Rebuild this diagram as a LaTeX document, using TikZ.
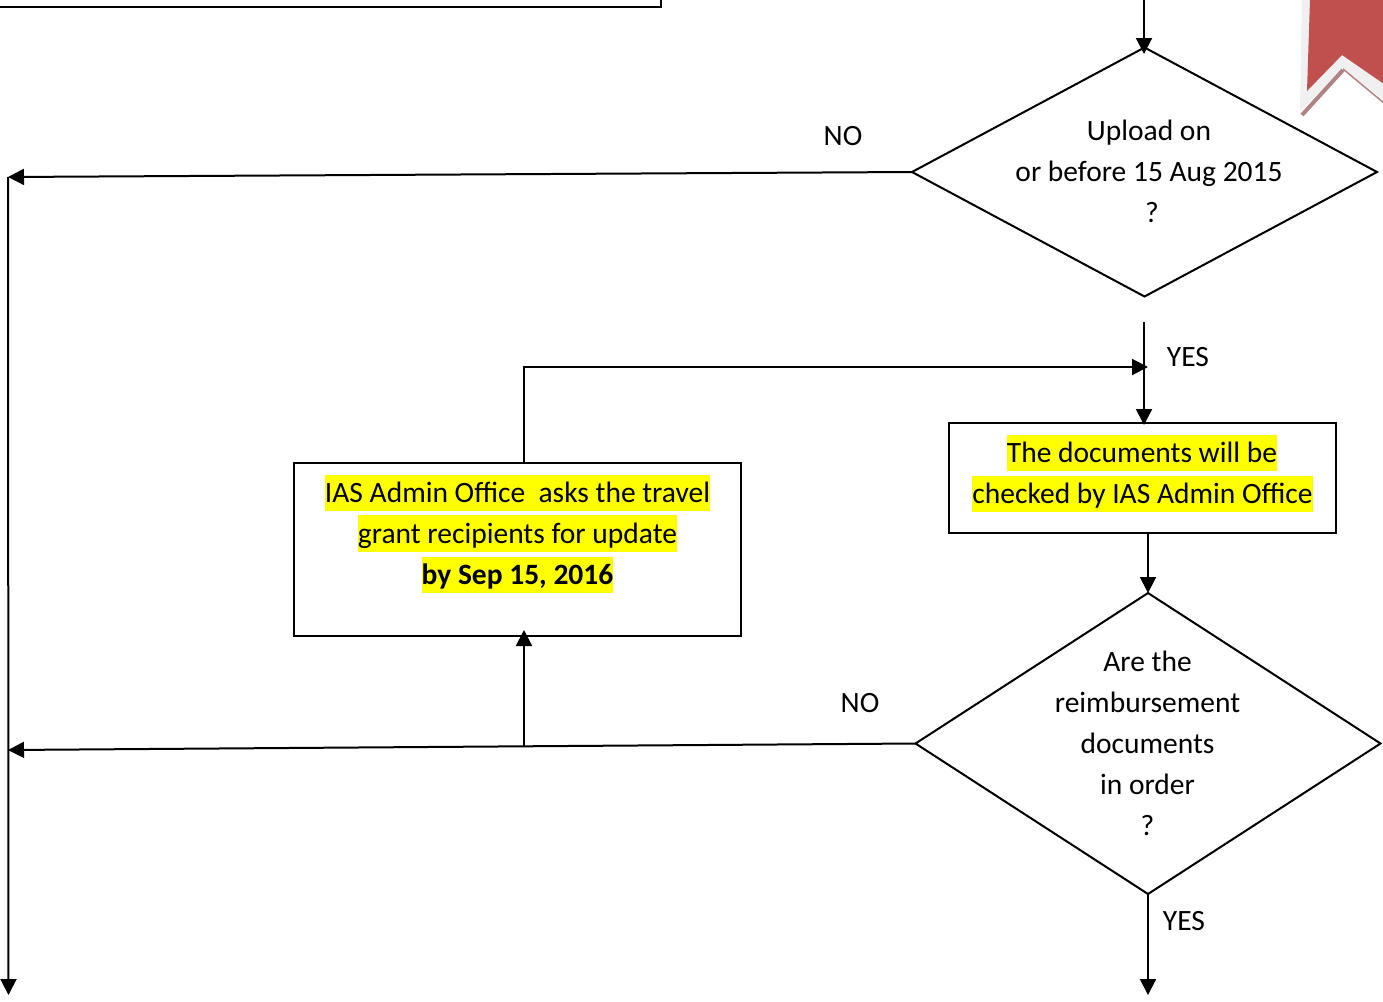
\documentclass[tikz,border=0pt]{standalone}
\usepackage{fontspec}
\setmainfont{Carlito}
\usetikzlibrary{shapes.geometric,arrows.meta}
\definecolor{ribbonred}{RGB}{192,80,77}
\definecolor{marker}{RGB}{255,255,0}
\definecolor{ribbonedge}{RGB}{176,130,132}
\tikzset{>={Stealth[inset=0pt,length=16pt,width=16pt]}}
\tikzset{box/.style={draw,line width=2pt,inner sep=0pt,outer sep=0pt},
  decision/.style={draw,diamond,line width=2pt,inner sep=0pt,outer sep=0pt},
  flow/.style={line width=2pt},
  txt/.style={font=\fontsize{29.5}{41}\selectfont,align=center},
  hl/.style={fill=marker,inner xsep=0pt,inner ysep=0pt,text height=28pt,text depth=8.5pt,font=\fontsize{29.5}{41}\selectfont}}

\begin{document}
\begin{tikzpicture}[x=1pt,y=-1pt]
    \useasboundingbox (0,0) rectangle (1383,1001);
    % ribbon in the corner
    \fill[black!6] (1302,-1) -- (1300,112) -- (1342,68) -- (1384,100) -- (1384,-1) -- cycle;
    \fill[ribbonred] (1310,-1) -- (1307,91) -- (1342,55) -- (1384,84) -- (1384,-1) -- cycle;
    \draw[line width=4pt,ribbonedge] (1302,115) -- (1343,70);
    \draw[line width=1.5pt,ribbonedge] (1343,69) -- (1384,103);
    % boxes
    \node[box,minimum width=700pt,minimum height=60pt] (top) at (311,-23) {};
    \node[box,minimum width=387pt,minimum height=110pt] (check) at (1142.5,478) {};
    \node[box,minimum width=447pt,minimum height=173pt] (update) at (517.5,549.5) {};
    \node[decision,minimum width=465pt,minimum height=249pt] (upload) at (1144.5,172) {};
    \node[decision,minimum width=465pt,minimum height=301pt] (inorder) at (1148,743.5) {};
    % texts
    \node[txt] (uploadtxt) at (1149,171) {Upload on\\or before 15 Aug 2015\\\hspace*{6pt}?};
    \node[txt] (inordertxt) at (1147.5,743) {Are the\\reimbursement\\documents\\in order\\?};
    \node[hl] (checka) at (1142,453) {The documents will be};
    \node[hl] (checkb) at (1142.5,494) {checked by IAS Admin Office};
    \node[hl] (updatea) at (517.5,493) {IAS Admin Office\ \ asks the travel};
    \node[hl] (updateb) at (517.5,533.5) {grant recipients for update};
    \node[hl] (updatec) at (517.5,575) {\textbf{by Sep 15, 2016}};
    \node[txt] (noa) at (843,136) {NO};
    \node[txt] (nob) at (860,703) {NO};
    \node[txt] (yesa) at (1188,357) {YES};
    \node[txt] (yesb) at (1184,921) {YES};
    % free ends
    \coordinate (intop) at (1144,-1);
    \coordinate (intip) at (1144,54);
    \coordinate (yesstart) at (1144,322);
    \coordinate (yesend) at (1144,425);
    \coordinate (joina) at (8,177);
    \coordinate (joinb) at (8,750);
    \coordinate (leftend) at (8.5,995);
    \coordinate (turn) at (524,367);
    \coordinate (merge) at (1148,367);
    \coordinate (rise) at (524,747);
    \coordinate (risetip) at (524,630);
    \coordinate (checkout) at (1148,533);
    \coordinate (downend) at (1148,995);
    % connectors
    \draw[->,flow] (intop) -- (intip);
    \draw[->,flow] (upload.west) -- (joina);
    \draw[->,flow] (joina) -- (leftend);
    \draw[->,flow] (yesstart) -- (yesend);
    \draw[->,flow] (update.north -| turn) -- (turn) -- (merge);
    \draw[->,flow] (checkout) -- (inorder.north);
    \draw[->,flow] (inorder.west) -- (joinb);
    \draw[->,flow] (rise) -- (risetip);
    \draw[->,flow] (inorder.south) -- (downend);
\end{tikzpicture}
\end{document}
